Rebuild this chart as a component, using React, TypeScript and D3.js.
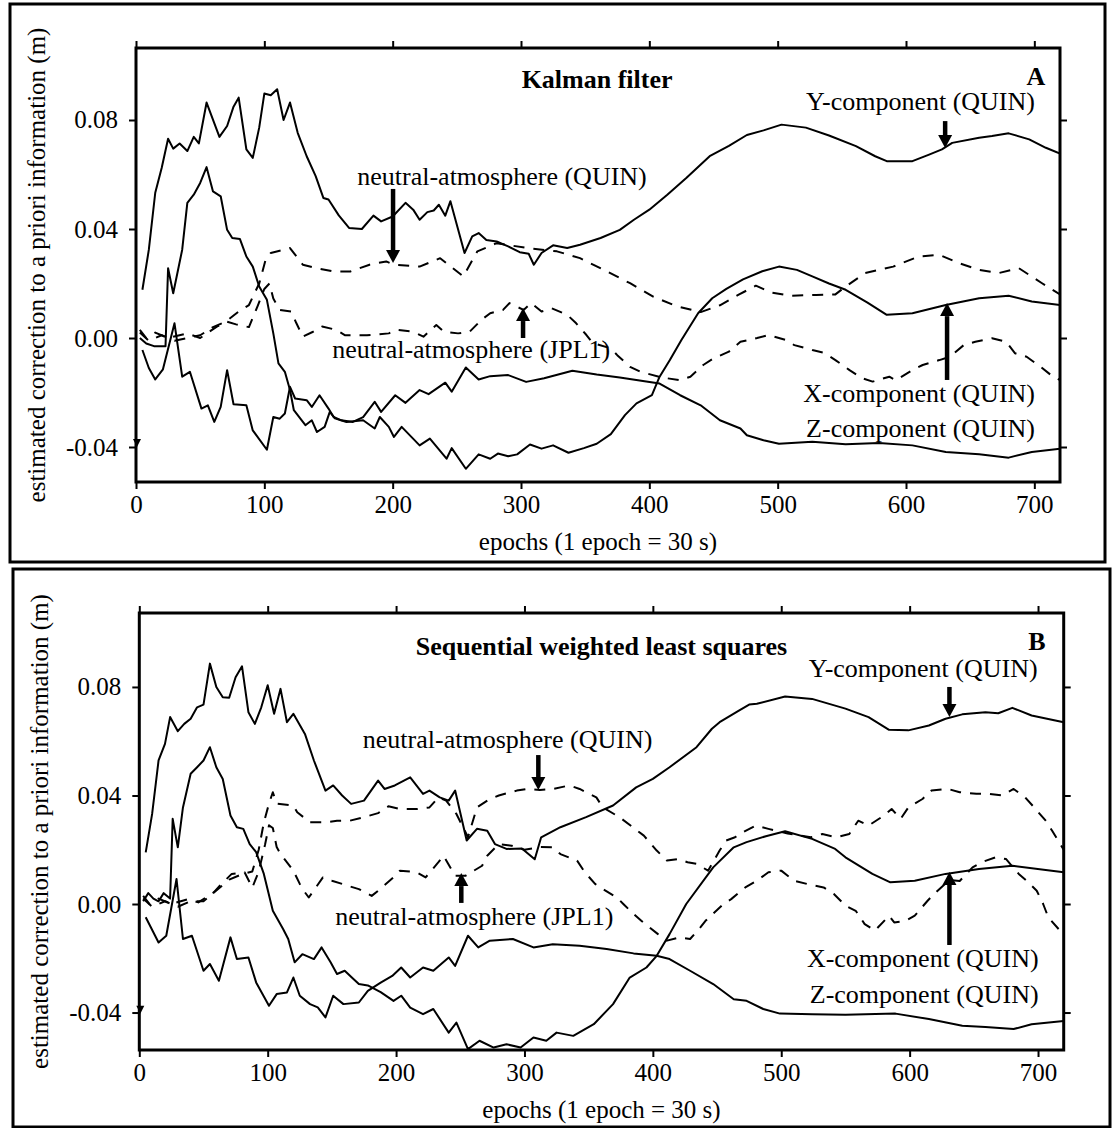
import React, { useEffect, useRef } from 'react';
import * as d3 from 'd3';

type Pt = [number, number];

// axes
const epochDomain: [number, number] = [0, 720];
const epochTicks = [0, 100, 200, 300, 400, 500, 600, 700];
const corrTicks = [-0.04, 0, 0.04, 0.08];

// ---- panel A: Kalman filter (epoch, correction in m) ----
const kalmanY: Pt[] = [
  [5, 0.0177], [10, 0.0324], [15, 0.0533], [20, 0.0624], [25, 0.0731], [29, 0.0695], [34, 0.0714],
  [40, 0.0686], [45, 0.0738], [49, 0.0714], [55, 0.0864], [65, 0.0738], [71, 0.0778], [76, 0.0849],
  [80, 0.0882], [86, 0.0692], [91, 0.0661], [96, 0.0772], [100, 0.0897], [105, 0.0891], [110, 0.0913],
  [115, 0.08], [120, 0.0864], [126, 0.0753], [133, 0.0667], [140, 0.0594], [146, 0.0514], [150, 0.0508],
  [158, 0.045], [166, 0.0404], [176, 0.04], [185, 0.0449], [191, 0.0428], [200, 0.0446], [210, 0.0496],
  [216, 0.0471], [221, 0.0434], [227, 0.0462], [232, 0.0468], [236, 0.0489], [241, 0.0449], [245, 0.0502],
  [256, 0.0312], [262, 0.0373], [267, 0.0385], [273, 0.036], [281, 0.0354], [290, 0.0336], [299, 0.0315],
  [306, 0.0309], [310, 0.0269], [316, 0.0312], [325, 0.034], [336, 0.033], [346, 0.0342], [362, 0.0367],
  [377, 0.0397], [388, 0.0434], [400, 0.0471], [414, 0.0526], [429, 0.0588], [447, 0.0667], [462, 0.0705],
  [476, 0.0745], [489, 0.0762], [503, 0.0783], [522, 0.0772], [540, 0.0743], [561, 0.0704], [576, 0.0667],
  [585, 0.0649], [605, 0.0649], [618, 0.0673], [628, 0.0692], [636, 0.0716], [657, 0.0735], [667, 0.0741],
  [680, 0.0751], [696, 0.0729], [709, 0.0698], [720, 0.0677],
];

const kalmanX: Pt[] = [
  [3, 0.0], [8, -0.002], [14, -0.003], [19, -0.003], [23, -0.003], [25, 0.0256], [29, 0.0164], [36, 0.0324],
  [40, 0.0496], [45, 0.0526], [50, 0.0569], [55, 0.0627], [60, 0.0538], [66, 0.052], [71, 0.0397],
  [75, 0.0367], [81, 0.0363], [86, 0.0299], [91, 0.0262], [96, 0.0189], [102, 0.014], [107, 0.0017],
  [111, -0.0093], [116, -0.0124], [120, -0.0191], [123, -0.0265], [132, -0.032], [137, -0.0302],
  [141, -0.0345], [147, -0.0326], [151, -0.0271], [155, -0.0295], [164, -0.0308], [177, -0.0302],
  [186, -0.0332], [190, -0.029], [197, -0.0326], [201, -0.0363], [207, -0.0326], [221, -0.0394],
  [229, -0.0369], [242, -0.0443], [246, -0.0404], [257, -0.048], [267, -0.0427], [276, -0.0443],
  [282, -0.0424], [290, -0.0434], [297, -0.0427], [307, -0.0391], [316, -0.0406], [325, -0.0394],
  [337, -0.0421], [349, -0.0404], [359, -0.0388], [370, -0.0353], [381, -0.0283], [390, -0.024],
  [402, -0.021], [408, -0.0142], [416, -0.0081], [425, -0.0007], [438, 0.0091], [449, 0.0146],
  [460, 0.018], [473, 0.0215], [488, 0.0245], [501, 0.0262], [515, 0.025], [527, 0.0226], [540, 0.02],
  [553, 0.0177], [570, 0.013], [585, 0.0085], [605, 0.0091], [631, 0.0121], [657, 0.0146], [680, 0.0155],
  [698, 0.0134], [720, 0.0121],
];

const kalmanZ: Pt[] = [
  [5, -0.0044], [10, -0.011], [15, -0.0152], [21, -0.0115], [30, 0.0054], [36, -0.0142], [42, -0.0124],
  [51, -0.0259], [56, -0.0247], [61, -0.0308], [66, -0.0253], [71, -0.0118], [76, -0.0243], [86, -0.0247],
  [91, -0.0339], [102, -0.041], [107, -0.029], [112, -0.0296], [116, -0.0277], [120, -0.0179],
  [124, -0.0222], [133, -0.0228], [137, -0.0253], [143, -0.021], [150, -0.0259], [154, -0.029],
  [160, -0.0302], [169, -0.0308], [177, -0.029], [186, -0.0234], [191, -0.0271], [202, -0.021],
  [210, -0.0238], [221, -0.0191], [228, -0.0206], [241, -0.0164], [246, -0.0197], [257, -0.0108],
  [267, -0.0152], [276, -0.014], [290, -0.0136], [304, -0.0161], [318, -0.0148], [340, -0.012],
  [359, -0.0134], [377, -0.0145], [395, -0.0158], [408, -0.0167], [424, -0.021], [440, -0.0247],
  [455, -0.0302], [471, -0.0332], [476, -0.0357], [489, -0.0375], [501, -0.0388], [527, -0.0381],
  [553, -0.039], [579, -0.0385], [605, -0.0394], [631, -0.0418], [657, -0.0427], [680, -0.0439],
  [698, -0.0418], [720, -0.0406],
];

const kalmanQuin: Pt[] = [
  [3, 0.002], [10, -0.001], [20, 0.001], [30, -0.001], [40, 0.0], [50, 0.001], [60, 0.004], [70, 0.006],
  [80, 0.0097], [88, 0.0121], [96, 0.02], [101, 0.0287], [105, 0.0312], [112, 0.032], [120, 0.033],
  [130, 0.0269], [141, 0.0256], [154, 0.0244], [167, 0.0244], [182, 0.0269], [195, 0.0281], [201, 0.0269],
  [221, 0.0262], [237, 0.0293], [255, 0.0226], [266, 0.0318], [281, 0.0348], [305, 0.033], [328, 0.0318],
  [346, 0.0293], [367, 0.0244], [385, 0.0201], [403, 0.0152], [421, 0.0117], [440, 0.0095], [455, 0.012],
  [470, 0.016], [483, 0.0192], [495, 0.0167], [510, 0.0155], [530, 0.0158], [545, 0.016], [553, 0.0189],
  [568, 0.0238], [590, 0.0262], [610, 0.0299], [626, 0.0305], [641, 0.0275], [657, 0.025], [672, 0.0238],
  [688, 0.0256], [706, 0.0201], [720, 0.016],
];

const kalmanJpl: Pt[] = [
  [3, 0.003], [8, 0.0], [15, 0.002], [25, 0.0], [40, 0.0017], [50, 0.0], [63, 0.0042], [71, 0.006],
  [78, 0.005], [88, 0.004], [95, 0.012], [100, 0.018], [104, 0.02], [107, 0.0145], [112, 0.0103],
  [121, 0.0097], [125, 0.0054], [130, 0.0005], [138, 0.0023], [145, 0.0042], [156, 0.003], [163, 0.001],
  [180, 0.001], [197, 0.0017], [203, 0.003], [216, 0.0023], [224, 0.0005], [234, 0.0048], [240, 0.0023],
  [251, 0.0017], [260, 0.0023], [269, 0.0066], [276, 0.0091], [286, 0.0103], [291, 0.0128], [302, 0.0103],
  [308, 0.0128], [316, 0.0097], [324, 0.0109], [336, 0.0085], [343, 0.0054], [351, 0.0011],
  [356, -0.0019], [370, -0.0038], [375, -0.0063], [385, -0.0106], [393, -0.0124], [410, -0.0145],
  [424, -0.0155], [432, -0.0142], [442, -0.0099], [450, -0.0075], [462, -0.005], [471, -0.0014],
  [484, 0.0], [493, 0.0011], [506, -0.0007], [513, -0.0026], [527, -0.0044], [536, -0.0054],
  [545, -0.0081], [556, -0.0118], [566, -0.0148], [574, -0.016], [587, -0.0142], [592, -0.0155],
  [605, -0.0118], [613, -0.0099], [626, -0.0081], [634, -0.0069], [645, -0.0026], [654, -0.0014],
  [667, -0.0001], [678, -0.0014], [685, -0.0056], [694, -0.0069], [705, -0.0106], [713, -0.0136],
  [720, -0.0155],
];

// ---- panel B: sequential weighted least squares ----
const seqY: Pt[] = [
  [5, 0.019], [10, 0.0332], [15, 0.0529], [20, 0.059], [24, 0.0689], [30, 0.0637], [35, 0.0664], [40, 0.0683],
  [45, 0.0725], [50, 0.0735], [55, 0.0886], [60, 0.08], [65, 0.0762], [70, 0.076], [75, 0.0836], [80, 0.0876],
  [85, 0.0707], [90, 0.0664], [95, 0.0725], [100, 0.0806], [105, 0.0701], [110, 0.0793], [115, 0.067],
  [120, 0.0701], [129, 0.0627], [136, 0.0529], [145, 0.0418], [151, 0.0437], [158, 0.04], [165, 0.0369],
  [175, 0.0381], [186, 0.0455], [191, 0.0424], [199, 0.0437], [211, 0.0467], [221, 0.0406], [226, 0.0418],
  [234, 0.0393], [241, 0.0381], [246, 0.0418], [255, 0.0234], [263, 0.0277], [271, 0.027], [277, 0.0221],
  [286, 0.0203], [298, 0.0205], [308, 0.0165], [313, 0.0246], [328, 0.0283], [348, 0.032], [369, 0.0363],
  [387, 0.043], [400, 0.0461], [413, 0.0504], [434, 0.0578], [446, 0.0646], [452, 0.067], [467, 0.0713],
  [475, 0.0735], [481, 0.0738], [503, 0.0765], [524, 0.0756], [550, 0.072], [568, 0.0689], [584, 0.0642],
  [599, 0.064], [615, 0.0658], [628, 0.0683], [641, 0.0699], [659, 0.0707], [669, 0.0703], [680, 0.0723],
  [695, 0.0695], [720, 0.067],
];

const seqX: Pt[] = [
  [3, 0.001], [7, 0.004], [11, 0.002], [15, 0.001], [19, 0.004], [24, 0.002], [26, 0.0314], [30, 0.0209],
  [34, 0.0356], [40, 0.048], [45, 0.0504], [50, 0.0529], [55, 0.0578], [60, 0.0504], [65, 0.0461],
  [71, 0.0326], [76, 0.0283], [81, 0.0277], [86, 0.0221], [91, 0.0191], [97, 0.0111], [104, -0.0025],
  [112, -0.0092], [116, -0.0129], [121, -0.0215], [127, -0.0185], [136, -0.0203], [142, -0.016],
  [149, -0.0215], [154, -0.0258], [160, -0.0246], [167, -0.0277], [171, -0.0295], [178, -0.03],
  [188, -0.0325], [198, -0.0357], [204, -0.0338], [211, -0.0382], [221, -0.0406], [229, -0.0387],
  [241, -0.0474], [247, -0.0437], [256, -0.0535], [265, -0.0504], [276, -0.0529], [286, -0.0517],
  [297, -0.0529], [307, -0.0492], [317, -0.0504], [325, -0.0474], [338, -0.0486], [354, -0.0443],
  [369, -0.0369], [382, -0.0271], [395, -0.0234], [403, -0.0191], [413, -0.0111], [426, 0.0],
  [447, 0.0135], [463, 0.0209], [473, 0.0228], [488, 0.025], [503, 0.0268], [524, 0.024], [542, 0.0203],
  [550, 0.0172], [571, 0.0111], [585, 0.008], [604, 0.0086], [628, 0.0111], [654, 0.0129], [680, 0.0141],
  [706, 0.0125], [720, 0.0117],
];

const seqZ: Pt[] = [
  [5, -0.0049], [15, -0.0142], [21, -0.0117], [29, 0.0092], [34, -0.0129], [41, -0.0117], [50, -0.0246],
  [55, -0.0221], [62, -0.0283], [71, -0.0123], [76, -0.0203], [85, -0.0197], [91, -0.0289], [101, -0.0375],
  [107, -0.0332], [115, -0.0326], [120, -0.0271], [125, -0.0338], [133, -0.0369], [139, -0.0381],
  [145, -0.0418], [151, -0.0338], [159, -0.0369], [171, -0.0363], [178, -0.032], [188, -0.029],
  [197, -0.0265], [204, -0.0234], [211, -0.0271], [221, -0.0234], [229, -0.0246], [241, -0.0197],
  [246, -0.0228], [256, -0.0117], [264, -0.016], [273, -0.0135], [291, -0.0129], [307, -0.016],
  [322, -0.0148], [343, -0.0154], [364, -0.0166], [385, -0.0182], [403, -0.0191], [413, -0.0203],
  [429, -0.0246], [447, -0.0295], [463, -0.0351], [473, -0.0357], [486, -0.0387], [499, -0.0404],
  [524, -0.0406], [550, -0.0408], [589, -0.0404], [615, -0.0424], [641, -0.0449], [659, -0.0453],
  [681, -0.0461], [695, -0.0443], [720, -0.0431],
];

const seqQuin: Pt[] = [
  [3, 0.002], [10, -0.001], [20, 0.001], [30, -0.001], [40, 0.001], [50, 0.001], [60, 0.005], [70, 0.009],
  [80, 0.011], [88, 0.012], [93, 0.02], [97, 0.03], [101, 0.037], [104, 0.0412], [107, 0.037], [120, 0.0363],
  [123, 0.0338], [133, 0.0301], [145, 0.0301], [154, 0.0307], [164, 0.0307], [175, 0.032], [186, 0.0335],
  [194, 0.036], [203, 0.035], [216, 0.035], [226, 0.0356], [233, 0.0393], [239, 0.0381], [247, 0.0332],
  [256, 0.0246], [263, 0.0356], [273, 0.0387], [280, 0.04], [294, 0.0418], [302, 0.0424], [312, 0.042],
  [322, 0.0424], [335, 0.0437], [343, 0.0424], [356, 0.0393], [361, 0.0356], [374, 0.032], [393, 0.0252],
  [403, 0.0197], [411, 0.016], [420, 0.0166], [427, 0.0154], [434, 0.0148], [443, 0.0123], [452, 0.0197],
  [457, 0.0234], [464, 0.0246], [470, 0.0264], [480, 0.0289], [490, 0.0277], [505, 0.026], [523, 0.0246],
  [532, 0.0258], [543, 0.0246], [553, 0.0258], [560, 0.0307], [568, 0.0289], [580, 0.0326], [586, 0.035],
  [593, 0.0314], [599, 0.0356], [610, 0.0387], [617, 0.0418], [630, 0.0424], [639, 0.0412], [652, 0.0406],
  [662, 0.0406], [672, 0.04], [681, 0.0424], [690, 0.0393], [697, 0.0356], [706, 0.0307], [711, 0.027],
  [720, 0.02],
];

const seqJpl: Pt[] = [
  [3, 0.003], [8, 0.0], [15, 0.002], [25, 0.0], [38, 0.0018], [46, 0.0006], [58, 0.0043], [64, 0.0074],
  [72, 0.0111], [82, 0.0117], [88, 0.006], [93, 0.012], [98, 0.022], [101, 0.029], [104, 0.028], [107, 0.021],
  [110, 0.0184], [114, 0.016], [120, 0.0123], [125, 0.0074], [129, 0.0043], [132, 0.0024], [143, 0.0098],
  [150, 0.0086], [162, 0.0068], [171, 0.0055], [181, 0.003], [186, 0.0049], [198, 0.0098], [203, 0.0123],
  [216, 0.0117], [223, 0.0098], [233, 0.0154], [237, 0.0178], [246, 0.0104], [254, 0.0104], [267, 0.0141],
  [271, 0.0178], [280, 0.0221], [290, 0.0215], [300, 0.02], [312, 0.021], [322, 0.0209], [328, 0.0184],
  [341, 0.016], [347, 0.0117], [355, 0.0074], [361, 0.0055], [372, 0.0024], [377, 0.0], [385, -0.0037],
  [391, -0.0062], [404, -0.0111], [411, -0.0135], [421, -0.0123], [429, -0.0129], [437, -0.0086],
  [441, -0.0062], [455, 0.0], [461, 0.0018], [472, 0.0061], [481, 0.0086], [490, 0.0117], [500, 0.0123],
  [510, 0.0086], [520, 0.0074], [533, 0.0061], [541, 0.0037], [550, -0.0006], [558, -0.0025],
  [565, -0.0074], [573, -0.0098], [584, -0.0043], [588, -0.0068], [597, -0.0062], [604, -0.0043],
  [614, 0.0012], [619, 0.0037], [631, 0.0088], [639, 0.0085], [649, 0.0135], [656, 0.0154], [667, 0.0172],
  [675, 0.0166], [685, 0.0111], [691, 0.0086], [699, 0.0049], [704, 0.0], [708, -0.0049], [716, -0.0092],
  [720, -0.011],
];

// ---- labels (text, anchor epoch, anchor value) ----
const labelsA: [string, number, number][] = [
  ['neutral-atmosphere (QUIN)', 398, 0.0561],
  ['Y-component (QUIN)', 700.5, 0.0837],
  ['neutral-atmosphere (JPL1)', 369.5, -0.0073],
  ['X-component (QUIN)', 700.5, -0.0235],
  ['Z-component (QUIN)', 700.5, -0.0363],
];
const labelsB: [string, number, number][] = [
  ['neutral-atmosphere (QUIN)', 399.6, 0.0575],
  ['Y-component (QUIN)', 699.7, 0.0837],
  ['neutral-atmosphere (JPL1)', 369.2, -0.0077],
  ['X-component (QUIN)', 700.5, -0.0232],
  ['Z-component (QUIN)', 700.5, -0.0365],
];
// arrows: epoch, tail value, head value
const arrowsA: [number, number, number][] = [
  [200.3, 0.0547, 0.0275],
  [630.5, 0.0796, 0.0697],
  [301.6, 0.0, 0.011],
  [632, -0.0154, 0.0128],
];
const arrowsB: [number, number, number][] = [
  [310.8, 0.0549, 0.042],
  [631, 0.08, 0.0689],
  [250.8, 0.0004, 0.0114],
  [631, -0.0151, 0.0118],
];

const FONT = '"Liberation Serif", "Times New Roman", Times, serif';
const W = 1112;
const H = 1128;

const panels = [
  {
    id: 'a',
    box: [10, 4, 1105, 562],
    left: 136, right: 1060, top: 48, bottom: 482,
    yDomain: [-0.05284, 0.10642],
    title: 'Kalman filter', titleAt: [359.3, 0.0917],
    letter: 'A', letterAt: [708.5, 0.0928],
    solid: [kalmanY, kalmanX, kalmanZ],
    dashed: [kalmanQuin, kalmanJpl],
    labels: labelsA, arrows: arrowsA,
    marker: -0.0385,
  },
  {
    id: 'b',
    box: [13, 569, 1110, 1127],
    left: 139.3, right: 1063.7, top: 613, bottom: 1050,
    yDomain: [-0.05381, 0.10726],
    title: 'Sequential weighted least squares', titleAt: [360, 0.0918],
    letter: 'B', letterAt: [705.9, 0.0936],
    solid: [seqY, seqX, seqZ],
    dashed: [seqQuin, seqJpl],
    labels: labelsB, arrows: arrowsB,
    marker: -0.039,
  },
];

function drawPanel(svg: any, p: any) {
  const x = d3.scaleLinear().domain(epochDomain).range([p.left, p.right]);
  const y = d3.scaleLinear().domain(p.yDomain).range([p.bottom, p.top]);
  const g = svg.append('g').attr('font-family', FONT);

  // outer frame of the panel
  g.append('rect')
    .attr('x', p.box[0]).attr('y', p.box[1])
    .attr('width', p.box[2] - p.box[0]).attr('height', p.box[3] - p.box[1])
    .attr('fill', 'none').attr('stroke', '#000').attr('stroke-width', 3);

  const clipId = `clip-${p.id}`;
  g.append('clipPath').attr('id', clipId).append('rect')
    .attr('x', p.left).attr('y', p.top)
    .attr('width', p.right - p.left).attr('height', p.bottom - p.top);

  const line = d3.line<Pt>().x(d => x(d[0])).y(d => y(d[1]));
  const lines = g.append('g')
    .attr('clip-path', `url(#${clipId})`)
    .attr('fill', 'none').attr('stroke', '#000')
    .attr('stroke-width', 2).attr('stroke-linejoin', 'round');
  p.solid.forEach((s: Pt[]) => lines.append('path').attr('d', line(s)));
  p.dashed.forEach((s: Pt[]) => lines.append('path').attr('d', line(s)).attr('stroke-dasharray', '11 9'));

  const styleAxis = (sel: any) => {
    sel.select('.domain').remove();
    sel.selectAll('line').attr('stroke-width', 2);
    sel.attr('font-size', 25).attr('font-family', FONT);
  };

  g.append('g').attr('transform', `translate(0,${p.bottom})`)
    .call(d3.axisBottom(x).tickValues(epochTicks).tickSize(7).tickPadding(6).tickFormat((d: any) => String(d)))
    .call(styleAxis);
  g.append('g').attr('transform', `translate(0,${p.top})`)
    .call(d3.axisTop(x).tickValues(epochTicks).tickSize(7).tickFormat(() => ''))
    .call(styleAxis);
  g.append('g').attr('transform', `translate(${p.left},0)`)
    .call(d3.axisLeft(y).tickValues(corrTicks).tickSize(7).tickPadding(11).tickFormat((d: any) => (+d).toFixed(2)))
    .call(styleAxis);
  g.append('g').attr('transform', `translate(${p.right},0)`)
    .call(d3.axisRight(y).tickValues(corrTicks).tickSize(7).tickFormat(() => ''))
    .call(styleAxis);

  // plot frame
  g.append('rect')
    .attr('x', p.left).attr('y', p.top)
    .attr('width', p.right - p.left).attr('height', p.bottom - p.top)
    .attr('fill', 'none').attr('stroke', '#000').attr('stroke-width', 3);

  // little mark on the left axis
  const mx = x(0), my = y(p.marker);
  g.append('path')
    .attr('d', `M${mx - 3},${my - 4}L${mx + 5},${my - 4}L${mx + 1},${my + 4}Z`)
    .attr('fill', '#000');

  // axis titles
  g.append('text')
    .attr('x', (p.left + p.right) / 2).attr('y', p.bottom + 68)
    .attr('text-anchor', 'middle').attr('font-size', 25)
    .text('epochs (1 epoch = 30 s)');
  const cy = (p.top + p.bottom) / 2;
  g.append('text')
    .attr('transform', `translate(${p.left - 91},${cy}) rotate(-90)`)
    .attr('text-anchor', 'middle').attr('font-size', 25)
    .text('estimated correction to a priori information (m)');

  // title and panel letter
  g.append('text')
    .attr('x', x(p.titleAt[0])).attr('y', y(p.titleAt[1]))
    .attr('text-anchor', 'middle').attr('font-size', 26).attr('font-weight', 'bold')
    .text(p.title);
  g.append('text')
    .attr('x', x(p.letterAt[0])).attr('y', y(p.letterAt[1]))
    .attr('text-anchor', 'end').attr('font-size', 26).attr('font-weight', 'bold')
    .text(p.letter);

  // annotations
  p.labels.forEach(([t, e, v]: [string, number, number]) => {
    g.append('text')
      .attr('x', x(e)).attr('y', y(v))
      .attr('text-anchor', 'end').attr('font-size', 26)
      .text(t);
  });
  p.arrows.forEach(([e, v0, v1]: [number, number, number]) => {
    const ax = x(e), y0 = y(v0), y1 = y(v1);
    const dir = Math.sign(y1 - y0);
    const headLen = 13, headW = 7;
    g.append('line')
      .attr('x1', ax).attr('x2', ax).attr('y1', y0).attr('y2', y1 - dir * headLen)
      .attr('stroke', '#000').attr('stroke-width', 4.5);
    g.append('path')
      .attr('d', `M${ax - headW},${y1 - dir * headLen}L${ax + headW},${y1 - dir * headLen}L${ax},${y1}Z`)
      .attr('fill', '#000');
  });
}

export default function App() {
  const ref = useRef<SVGSVGElement>(null);

  useEffect(() => {
    const svg = d3.select(ref.current);
    svg.selectAll('*').remove();
    panels.forEach(p => drawPanel(svg, p));
  }, []);

  return (
    <div style={{ position: 'absolute', left: 0, top: 0 }}>
      <svg ref={ref} width={W} height={H} style={{ display: 'block', background: '#fff' }} />
    </div>
  );
}
